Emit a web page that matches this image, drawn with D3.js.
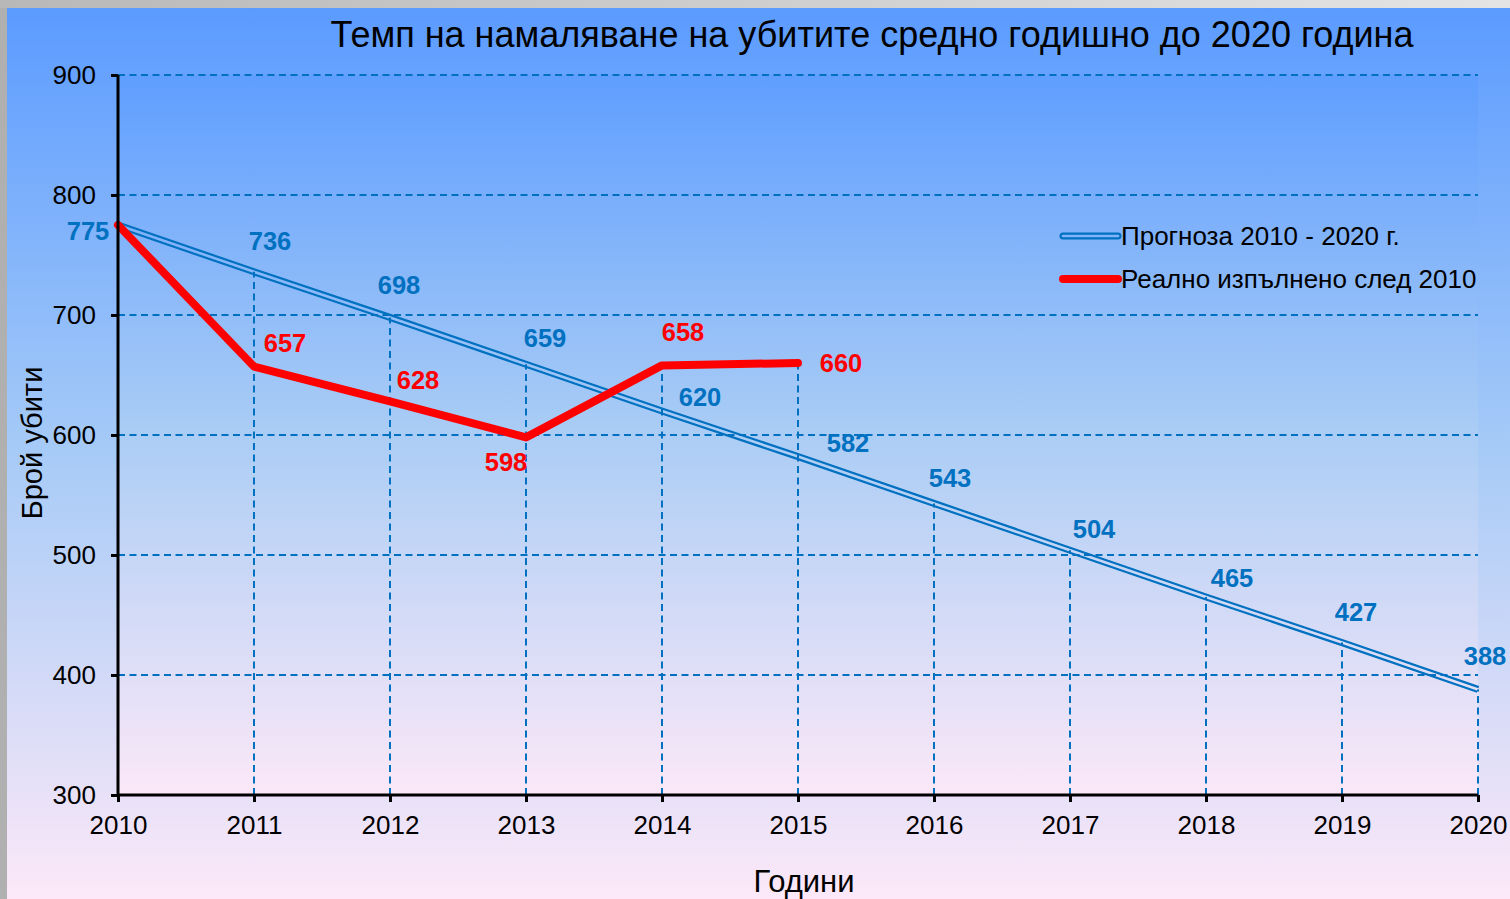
<!DOCTYPE html>
<html>
<head>
<meta charset="utf-8">
<script src="https://cdn.jsdelivr.net/npm/d3@7"></script>
<style>
  html, body { margin: 0; padding: 0; overflow: hidden; background: #fff; }
  text { font-family: "Liberation Sans", Arial, sans-serif; }
</style>
</head>
<body>
<div id="chart"></div>
<script>
// data
var years = [2010, 2011, 2012, 2013, 2014, 2015, 2016, 2017, 2018, 2019, 2020]
var forecast = [775, 736, 698, 659, 620, 582, 543, 504, 465, 427, 388]
var actualYears = [2010, 2011, 2012, 2013, 2014, 2015]
var actual = [775, 657, 628, 598, 658, 660]
var yTicks = [300, 400, 500, 600, 700, 800, 900]
var seriesNames = ["Прогноза 2010 - 2020 г.", "Реално изпълнено след 2010"]

// hand placed label nudges, like the ones dragged around in the spreadsheet
var forecastNudge = [[-30, 6], [16, -31], [9, -32], [19, -26], [38, -14], [50, -14], [16, -25], [24, -21], [26, -19], [14, -31], [7, -33]]
var actualNudge = [null, [31, -24], [28, -21], [-20, 25], [21, -33], [43, 0]]

var W = 1510, H = 899
var blue = "#0070c0", red = "#ff0000"

var svg = d3.select("#chart").append("svg").attr("width", W).attr("height", H)
var defs = svg.append("defs")

var bg = defs.append("linearGradient").attr("id", "bg").attr("x1", 0).attr("y1", 0).attr("x2", 0).attr("y2", 1)
bg.append("stop").attr("offset", "0%").attr("stop-color", "#5b9bff")
bg.append("stop").attr("offset", "50%").attr("stop-color", "#a7cbf7")
bg.append("stop").attr("offset", "100%").attr("stop-color", "#fce8f8")

var pg = defs.append("linearGradient").attr("id", "pg").attr("x1", 0).attr("y1", 0).attr("x2", 0).attr("y2", 1)
pg.append("stop").attr("offset", "0%").attr("stop-color", "#5f9eff")
pg.append("stop").attr("offset", "50%").attr("stop-color", "#abcdf5")
pg.append("stop").attr("offset", "100%").attr("stop-color", "#fbe8f8")

var edge = defs.append("linearGradient").attr("id", "edge").attr("x1", 0).attr("y1", 0).attr("x2", 1).attr("y2", 0)
edge.append("stop").attr("offset", "0%").attr("stop-color", "#b8b8b8")
edge.append("stop").attr("offset", "100%").attr("stop-color", "#e4e4e4")

// frame
svg.append("rect").attr("width", W).attr("height", H).attr("fill", "#b0b0b0")
svg.append("rect").attr("width", W).attr("height", 8).attr("fill", "url(#edge)")
svg.append("rect").attr("x", 7).attr("y", 8).attr("width", W - 7).attr("height", H - 8).attr("fill", "url(#bg)")

var x = d3.scaleLinear().domain([2010, 2020]).range([118, 1478])
var y = d3.scaleLinear().domain([300, 900]).range([795, 75])

svg.append("rect").attr("x", x(2010)).attr("y", y(900))
    .attr("width", x(2020) - x(2010)).attr("height", y(300) - y(900))
    .attr("fill", "url(#pg)")

// horizontal grid
svg.append("g").selectAll("line").data(yTicks.filter(function (d) { return d > 300 })).join("line")
    .attr("x1", x(2010)).attr("x2", x(2020))
    .attr("y1", function (d) { return y(d) }).attr("y2", function (d) { return y(d) })
    .attr("stroke", blue).attr("stroke-width", 2).attr("stroke-dasharray", "7,4.5")

// drop lines, from the higher series down to the axis
svg.append("g").selectAll("line").data(years).join("line")
    .attr("x1", function (d) { return x(d) }).attr("x2", function (d) { return x(d) })
    .attr("y1", y(300))
    .attr("y2", function (d, i) {
        var j = actualYears.indexOf(d)
        var top = j >= 0 ? Math.max(forecast[i], actual[j]) : forecast[i]
        return y(top)
    })
    .attr("stroke", blue).attr("stroke-width", 2).attr("stroke-dasharray", "7,4.5")

// double line for the forecast: a wide blue stroke with its middle cut out
var line = d3.line().x(function (d) { return x(d[0]) }).y(function (d) { return y(d[1]) })
var fData = d3.zip(years, forecast)
var mask = defs.append("mask").attr("id", "hole").attr("maskUnits", "userSpaceOnUse")
    .attr("x", 0).attr("y", 0).attr("width", W).attr("height", H)
mask.append("rect").attr("width", W).attr("height", H).attr("fill", "white")
mask.append("path").attr("d", line(fData)).attr("fill", "none").attr("stroke", "black").attr("stroke-width", 2.6)
mask.append("path").attr("d", "M1063,236H1118").attr("fill", "none").attr("stroke", "black").attr("stroke-width", 2.6).attr("stroke-linecap", "round")

svg.append("path").attr("d", line(fData)).attr("fill", "none")
    .attr("stroke", blue).attr("stroke-width", 7).attr("mask", "url(#hole)")

svg.append("path").attr("d", line(d3.zip(actualYears, actual))).attr("fill", "none")
    .attr("stroke", red).attr("stroke-width", 8).attr("stroke-linejoin", "round").attr("stroke-linecap", "round")

// axes
var yAxis = svg.append("g").attr("transform", "translate(" + x(2010) + ",0)")
    .call(d3.axisLeft(y).tickValues(yTicks).tickSize(7).tickPadding(15))
var xAxis = svg.append("g").attr("transform", "translate(0," + y(300) + ")")
    .call(d3.axisBottom(x).tickValues(years).tickFormat(d3.format("d")).tickSize(7).tickPadding(14))
yAxis.select(".domain").attr("d", "M0," + y(900) + "V" + y(300)).attr("stroke", "#000").attr("stroke-width", 3)
xAxis.select(".domain").attr("d", "M" + x(2010) + ",0H" + x(2020)).attr("stroke", "#000").attr("stroke-width", 3)
svg.selectAll(".tick line").attr("stroke", "#000").attr("stroke-width", 3)
svg.selectAll(".tick text").attr("fill", "#000").attr("font-size", 26)
    .style("font-family", "'Liberation Sans', Arial, sans-serif")

// data labels
svg.append("g").selectAll("text").data(fData).join("text")
    .attr("x", function (d, i) { return x(d[0]) + forecastNudge[i][0] })
    .attr("y", function (d, i) { return y(d[1]) + forecastNudge[i][1] })
    .attr("dy", "0.35em").attr("text-anchor", "middle")
    .attr("font-size", 25.5).attr("font-weight", "bold").attr("fill", blue)
    .text(function (d) { return d[1] })

svg.append("g").selectAll("text").data(d3.zip(actualYears, actual).slice(1)).join("text")
    .attr("x", function (d, i) { return x(d[0]) + actualNudge[i + 1][0] })
    .attr("y", function (d, i) { return y(d[1]) + actualNudge[i + 1][1] })
    .attr("dy", "0.35em").attr("text-anchor", "middle")
    .attr("font-size", 25.5).attr("font-weight", "bold").attr("fill", red)
    .text(function (d) { return d[1] })

// legend
svg.append("path").attr("d", "M1063,236H1118").attr("stroke", blue).attr("stroke-width", 7)
    .attr("stroke-linecap", "round").attr("mask", "url(#hole)")
svg.append("path").attr("d", "M1063,279H1118").attr("stroke", red).attr("stroke-width", 8)
    .attr("stroke-linecap", "round")
svg.append("g").selectAll("text").data(seriesNames).join("text")
    .attr("x", 1121).attr("y", function (d, i) { return 236 + i * 43 })
    .attr("dy", "0.35em").attr("font-size", 26).attr("fill", "#000")
    .text(function (d) { return d })

// titles
svg.append("text").attr("x", 872).attr("y", 47).attr("text-anchor", "middle")
    .attr("font-size", 36).attr("fill", "#000")
    .text("Темп на намаляване на убитите средно годишно до 2020 година")
svg.append("text").attr("x", 804).attr("y", 892).attr("text-anchor", "middle")
    .attr("font-size", 31).attr("fill", "#000").text("Години")
svg.append("text").attr("transform", "translate(42,443) rotate(-90)").attr("text-anchor", "middle")
    .attr("font-size", 29).attr("fill", "#000").text("Брой убити")
</script>
</body>
</html>
